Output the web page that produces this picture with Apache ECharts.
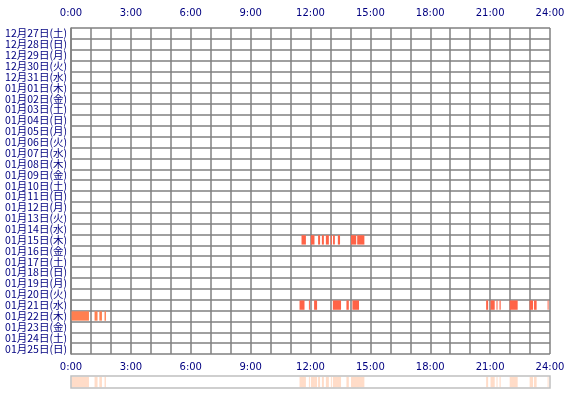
<!DOCTYPE html>
<html><head><meta charset="utf-8">
<script src="https://cdn.jsdelivr.net/npm/echarts@6/dist/echarts.min.js"></script>
<style>html,body{margin:0;padding:0;background:#fff}#c{width:570px;height:400px}</style>
</head><body><div id="c"></div>
<script>
const days = ['12月27日(土)','12月28日(日)','12月29日(月)','12月30日(火)','12月31日(水)','01月01日(木)','01月02日(金)','01月03日(土)','01月04日(日)','01月05日(月)','01月06日(火)','01月07日(水)','01月08日(木)','01月09日(金)','01月10日(土)','01月11日(日)','01月12日(月)','01月13日(火)','01月14日(水)','01月15日(木)','01月16日(金)','01月17日(土)','01月18日(日)','01月19日(月)','01月20日(火)','01月21日(水)','01月22日(木)','01月23日(金)','01月24日(土)','01月25日(日)'];
const tickLabels = ['0:00','3:00','6:00','9:00','12:00','15:00','18:00','21:00','24:00'];
// [dayIndex, startHour, endHour]
const jan15 = [[19,11.55,11.77],[19,12.02,12.2],[19,12.38,12.48],[19,12.57,12.67],[19,12.77,12.92],[19,13.02,13.07],[19,13.13,13.22],[19,13.37,13.48],[19,14.03,14.29],[19,14.34,14.7]];
const jan21 = [[25,11.45,11.7],[25,11.92,11.97],[25,12.18,12.33],[25,13.12,13.53],[25,13.8,13.92],[25,14.1,14.43],[25,20.8,20.9],[25,21.02,21.23],[25,21.32,21.37],[25,21.47,21.53],[25,21.98,22.38],[25,22.98,23.15],[25,23.2,23.33],[25,23.88,23.93]];
const jan22 = [[26,0.03,0.9],[26,1.18,1.33],[26,1.42,1.55],[26,1.68,1.75]];

function rect(color, yAxisIsCat) {
  return function(params, api) {
    const s = api.coord([api.value(1), yAxisIsCat ? api.value(0) : 0]);
    const e = api.coord([api.value(2), yAxisIsCat ? api.value(0) : 0]);
    const sz = api.size([0, 1]);
    const h = yAxisIsCat ? sz[1] : params.coordSys.height;
    const y = yAxisIsCat ? s[1] - h / 2 : params.coordSys.y;
    return {type:'rect', shape:{x:s[0], y:y+0.75, width:Math.max(1,e[0]-s[0]), height:h-1.5}, style:{fill:color}};
  };
}
const all = jan15.concat(jan21, jan22);
const labFmt = v => (v % 3 === 0 ? tickLabels[v/3] : '');
const chart = echarts.init(document.getElementById('c'));
chart.setOption({
  animation:false,
  grid:[{left:71,top:28,width:479,height:326},{left:71,top:376,width:479,height:12}],
  xAxis:[
    {gridIndex:0,type:'value',min:0,max:24,interval:1,position:'top',axisLine:{show:false},axisTick:{show:false},
     splitLine:{lineStyle:{color:'#808080',width:1.5}},axisLabel:{color:'#000080',fontSize:10,fontFamily:'DejaVu Sans',formatter:labFmt,margin:10,showMaxLabel:true,showMinLabel:true}},
    {gridIndex:0,type:'value',min:0,max:24,interval:1,position:'bottom',axisLine:{show:false},axisTick:{show:false},
     splitLine:{show:false},axisLabel:{color:'#000080',fontSize:10,fontFamily:'DejaVu Sans',formatter:labFmt,margin:8,showMaxLabel:true,showMinLabel:true}},
    {gridIndex:1,type:'value',min:0,max:24,show:false}
  ],
  yAxis:[
    {gridIndex:0,type:'category',data:days,inverse:true,boundaryGap:true,axisLine:{lineStyle:{color:'#808080',width:1.5}},axisTick:{show:false},
     splitLine:{show:true,interval:0,lineStyle:{color:'#808080',width:1.5}},
     axisLabel:{color:'#000080',fontSize:10.5,fontFamily:'Noto Sans CJK JP',interval:0,margin:4}},
    {gridIndex:1,type:'value',min:0,max:1,show:false}
  ],
  series:[
    {type:'custom',xAxisIndex:0,yAxisIndex:0,renderItem:rect('#ff6347',true),data:jan15.concat(jan21),encode:{x:[1,2],y:0},z:3},
    {type:'custom',xAxisIndex:0,yAxisIndex:0,renderItem:rect('#ff7f50',true),data:jan22,encode:{x:[1,2],y:0},z:3},
    {type:'custom',xAxisIndex:2,yAxisIndex:1,renderItem:rect('#ffdcc8',false),data:all,encode:{x:[1,2]},z:3}
  ],
  graphic:[{type:'rect',shape:{x:71,y:376,width:479,height:12},style:{fill:'none',stroke:'#c0c0c0',lineWidth:1.5},z:10}]
});
</script></body></html>
